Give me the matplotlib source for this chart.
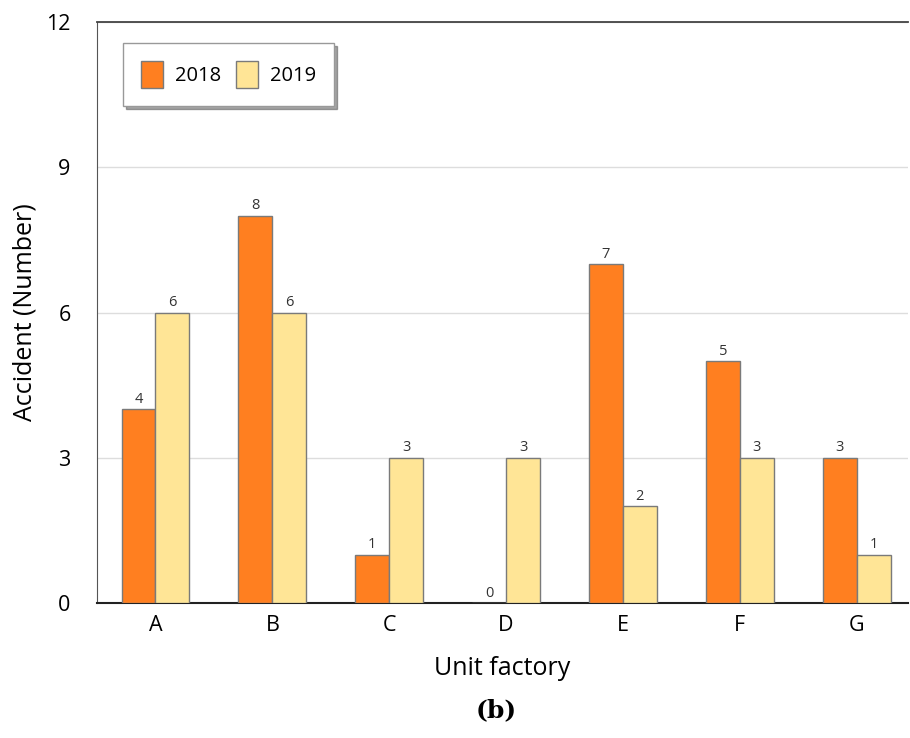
import matplotlib
matplotlib.use("Agg")
import matplotlib.pyplot as plt
import numpy as np

categories = ["A", "B", "C", "D", "E", "F", "G"]
acc_2018 = [4, 8, 1, 0, 7, 5, 3]
acc_2019 = [6, 6, 3, 3, 2, 3, 1]
series_labels = ["2018", "2019"]
y_ticks = [0, 3, 6, 9, 12]

plt.rcParams['font.family'] = ['Open Sans', 'DejaVu Sans']

fig = plt.figure(figsize=(9.1, 7.38), dpi=100)
ax = fig.add_axes([0.1066, 0.183, 0.8914, 0.787])

x = np.arange(len(categories))
w = 0.29
c18 = "#FF7F20"
c19 = "#FFE596"
edge = "#7a7a7a"
b1 = ax.bar(x - w/2, acc_2018, w, color=c18, edgecolor=edge, linewidth=1, label=series_labels[0], zorder=3)
b2 = ax.bar(x + w/2, acc_2019, w, color=c19, edgecolor=edge, linewidth=1, label=series_labels[1], zorder=3)

for bars, vals in ((b1, acc_2018), (b2, acc_2019)):
    for r, v in zip(bars, vals):
        ax.text(r.get_x() + r.get_width()/2, v + 0.05, str(v), ha="center", va="bottom",
                fontsize=10.5, color="#333333", zorder=4)

ax.set_xlim(-0.5, 6.44)
ax.set_ylim(0, 12)
ax.set_yticks(y_ticks)
ax.set_xticks(x)
ax.set_xticklabels(categories)
ax.tick_params(axis="y", length=0, pad=19, labelsize=15.5)
ax.tick_params(axis="x", length=0, pad=9, labelsize=15.5)
ax.grid(axis="y", color="#dddddd", linewidth=1, zorder=0)
ax.spines["right"].set_visible(False)
ax.spines["top"].set_color("#444444")
ax.spines["top"].set_linewidth(1.3)
ax.spines["left"].set_color("#555555")
ax.spines["bottom"].set_color("#222222")
ax.spines["bottom"].set_linewidth(1.5)
ax.set_ylabel("Accident (Number)", fontsize=18, labelpad=6)
ax.set_xlabel("Unit factory", fontsize=18, labelpad=14)

leg = ax.legend(loc="upper left", bbox_to_anchor=(0.032, 0.964), ncol=2, fontsize=14.5,
                frameon=True, fancybox=False, shadow=True, edgecolor="#999999",
                handlelength=1.1, handleheight=1.65, borderpad=0.9, columnspacing=0.7,
                handletextpad=0.6, borderaxespad=0)

fig.text(0.545, 0.038, "(b)", ha="center", va="center", fontsize=18,
         family="DejaVu Serif", fontweight="bold")

fig.savefig("out.png", dpi=100)
